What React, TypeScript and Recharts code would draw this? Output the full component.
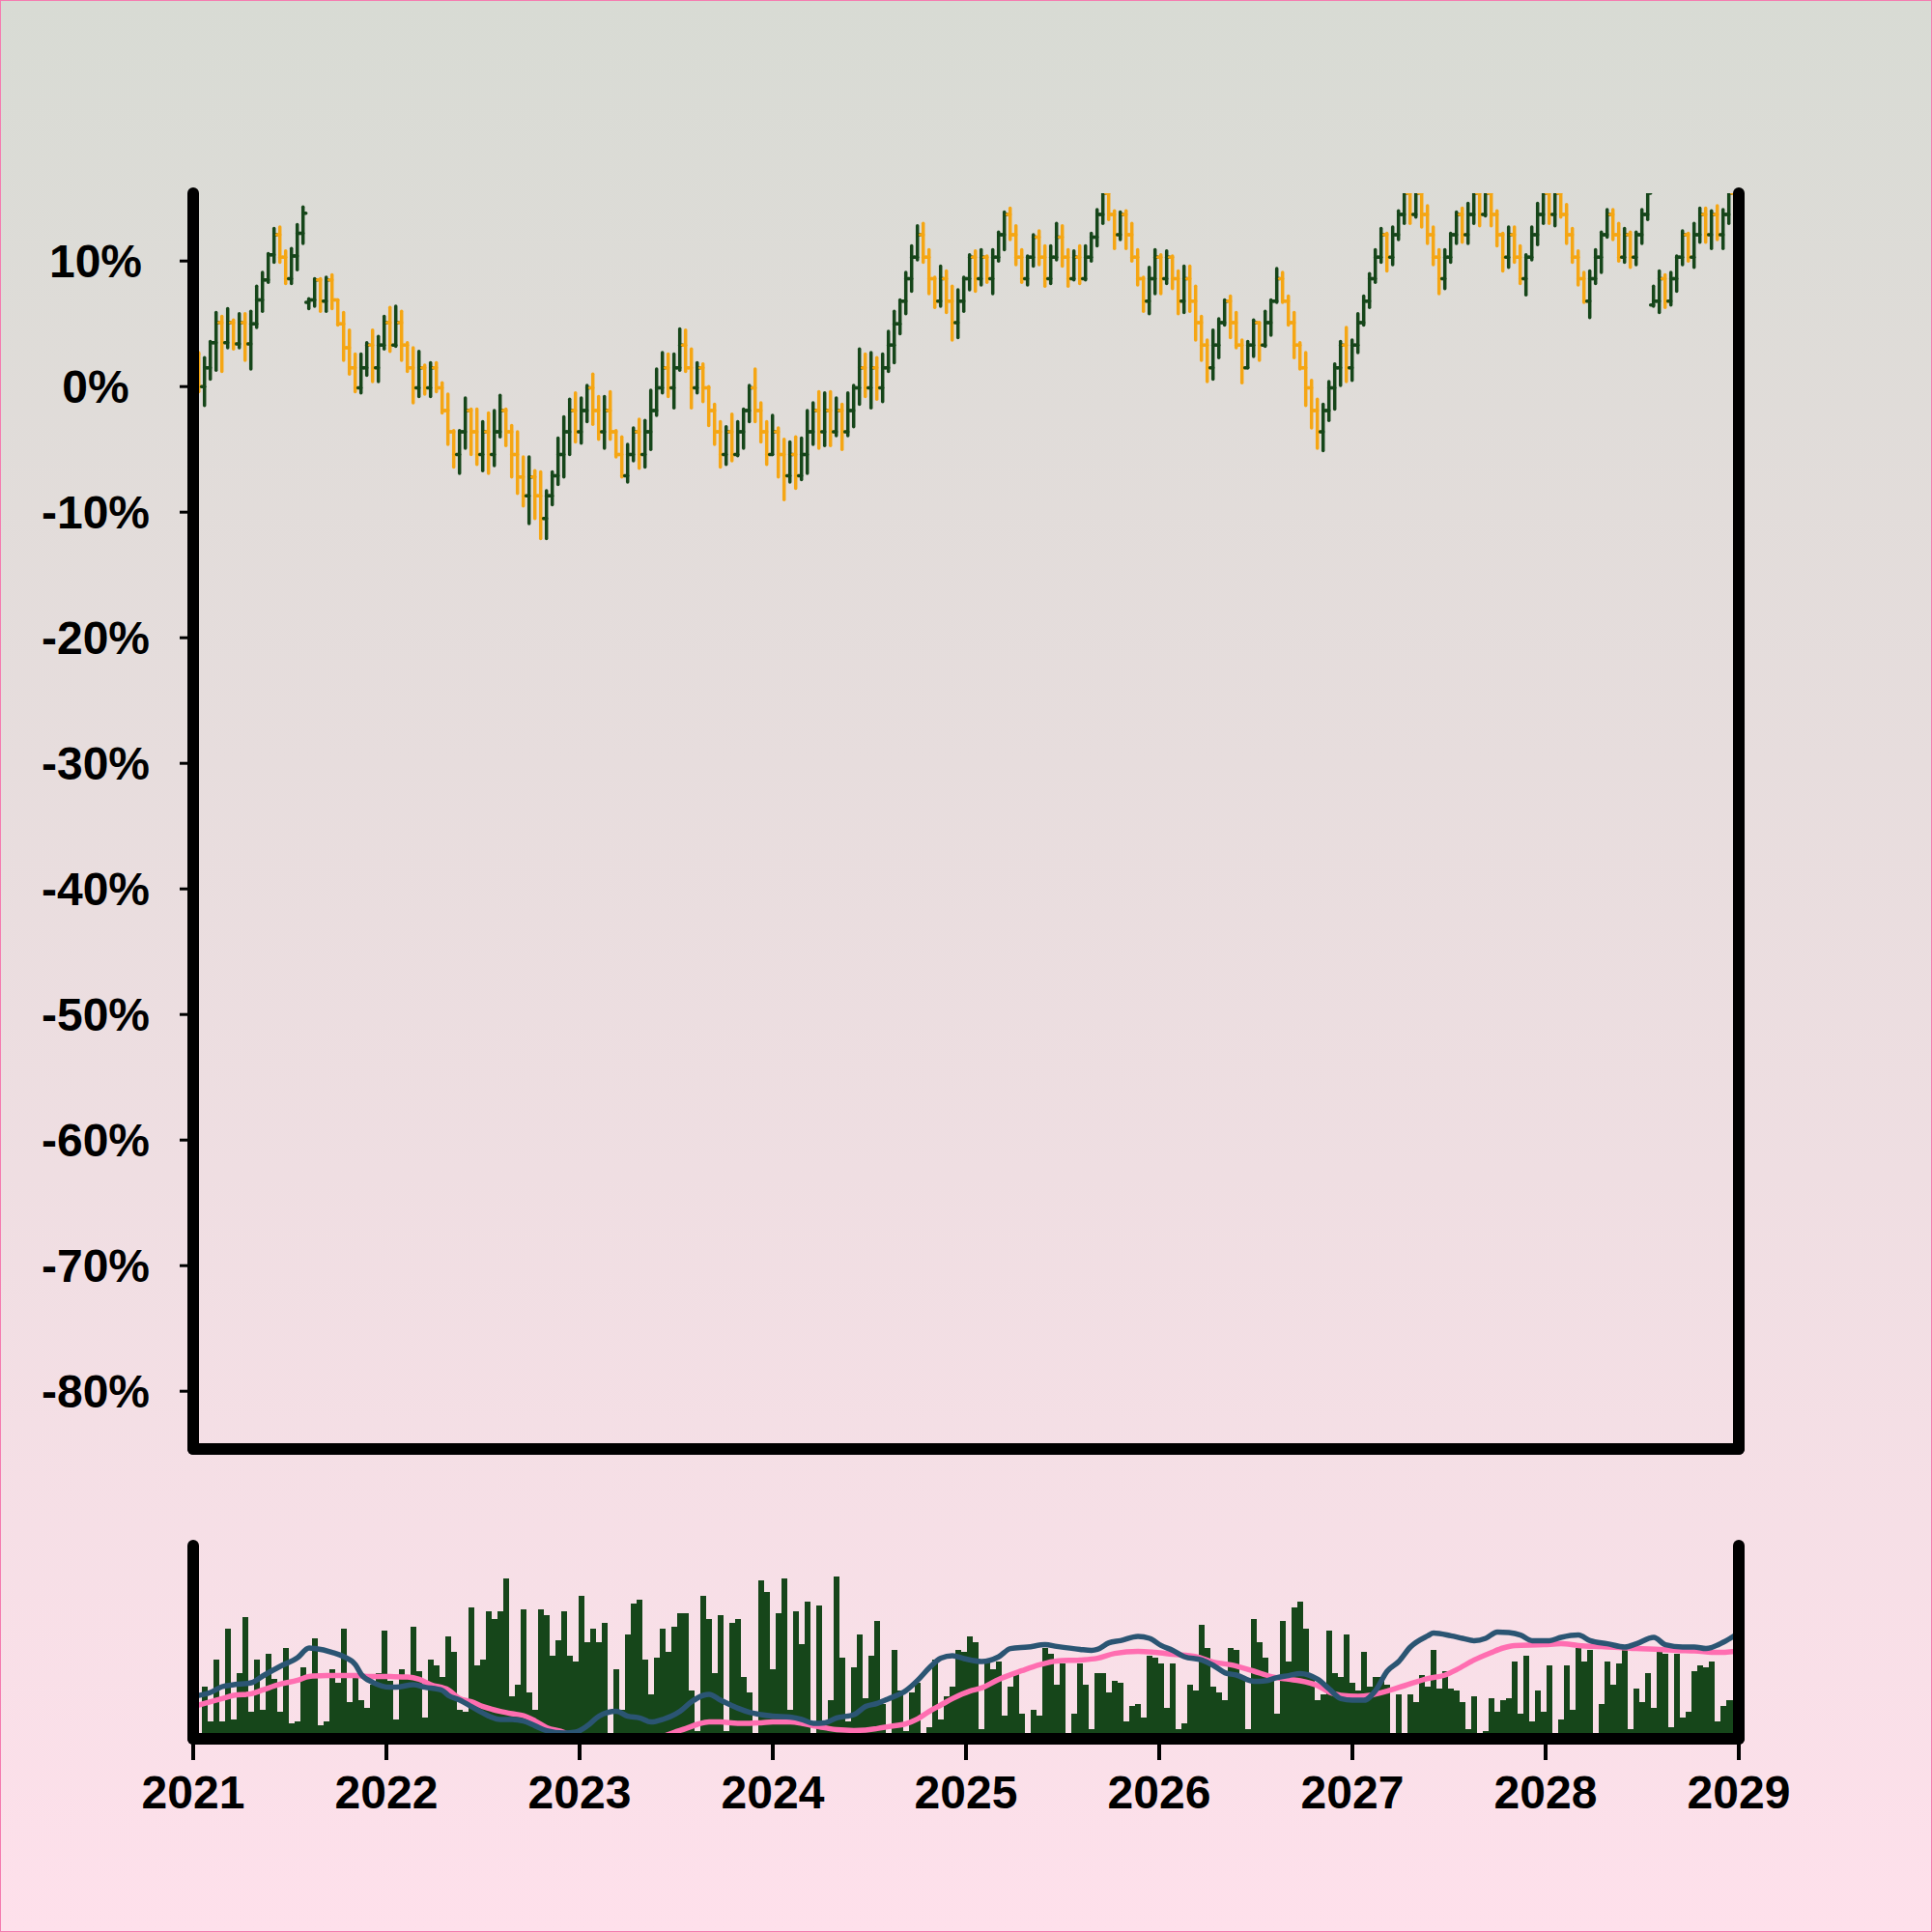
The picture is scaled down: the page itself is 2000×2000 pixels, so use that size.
import React from 'react';
import { ComposedChart, Bar, Line, XAxis, YAxis } from 'recharts';

// bars every ~11 days, starting 2021-01-01
const START_YEAR = 2021;
const STEP_YEARS = 0.03;

// price change in %, one entry per bar
const closes = [
  2.6, 0.0, 1.5, 3.5, 5.1, 3.5, 5.1, 3.4, 5.1, 3.4,
  5.0, 6.9, 8.5, 10.5, 12.1, 10.3, 8.6, 10.4, 12.2, 13.8,
  6.9, 8.5, 6.8, 8.5, 6.9, 5.0, 3.1, 1.5, -0.1, 1.5,
  3.3, 1.5, 3.3, 5.1, 3.3, 5.1, 3.3, 1.5, -0.1, 1.5,
  -0.1, 1.5, -0.1, -1.9, -3.6, -5.4, -3.6, -1.9, -3.6, -5.4,
  -3.6, -5.4, -3.6, -1.9, -3.6, -5.4, -7.2, -8.7, -7.2, -8.7,
  -10.5, -8.7, -7.1, -5.4, -3.6, -1.9, -3.6, -1.9, -0.1, -1.9,
  -3.6, -1.9, -3.6, -5.4, -7.1, -5.4, -3.6, -5.4, -3.6, -1.9,
  -0.1, 1.5, -0.1, 1.5, 3.3, 1.5, -0.1, 1.5, -0.1, -1.9,
  -3.6, -5.4, -3.6, -5.4, -3.6, -1.9, -0.1, -1.9, -3.6, -5.4,
  -3.6, -5.4, -7.1, -5.4, -7.1, -5.4, -3.6, -1.9, -3.6, -1.9,
  -3.6, -1.9, -3.6, -1.9, -0.1, 1.5, -0.1, 1.5, -0.1, 1.5,
  3.3, 5.0, 6.8, 8.6, 10.3, 12.1, 10.3, 8.6, 6.8, 8.6,
  6.8, 5.1, 6.8, 8.6, 10.3, 8.6, 10.3, 8.6, 10.3, 12.1,
  13.7, 12.1, 10.3, 8.6, 10.3, 11.9, 10.3, 8.6, 10.3, 11.9,
  10.3, 8.6, 10.3, 8.6, 10.3, 11.9, 13.7, 15.4, 13.7, 12.1,
  13.7, 12.1, 10.3, 8.6, 6.8, 8.6, 10.3, 8.6, 10.3, 8.6,
  6.8, 8.6, 6.8, 5.1, 3.3, 1.5, 3.3, 5.1, 6.8, 5.1,
  3.3, 1.5, 3.3, 5.1, 3.3, 5.1, 6.8, 8.6, 6.8, 5.1,
  3.3, 1.5, -0.1, -1.9, -3.6, -1.9, -0.1, 1.5, 3.3, 1.5,
  3.3, 5.1, 6.8, 8.6, 10.3, 12.1, 10.3, 12.1, 13.7, 15.4,
  13.7, 15.4, 13.7, 12.1, 10.3, 8.6, 10.3, 12.1, 13.7, 12.1,
  13.7, 15.4, 13.7, 15.4, 13.7, 12.1, 10.3, 12.1, 10.3, 8.6,
  10.3, 12.1, 13.7, 15.4, 13.7, 15.4, 13.7, 12.1, 10.3, 8.6,
  6.8, 8.6, 10.3, 12.1, 13.7, 12.1, 10.3, 12.1, 10.3, 12.1,
  13.7, 15.4, 6.8, 8.6, 6.8, 8.6, 10.3, 12.1, 10.3, 12.1,
  13.7, 12.1, 13.7, 12.1, 13.7, 15.4, 13.7,
];

const highs = [
  2.8, 2.7, 2.3, 3.6, 5.9, 5.6, 6.2, 5.3, 5.8, 5.8,
  6.0, 8.0, 9.1, 10.6, 12.6, 12.7, 10.8, 11.0, 12.9, 14.3,
  7.0, 8.6, 8.6, 8.7, 8.9, 6.9, 5.9, 4.5, 2.6, 2.6,
  3.5, 4.5, 4.0, 5.6, 6.3, 6.4, 6.0, 3.5, 3.1, 2.8,
  1.7, 1.9, 1.9, 0.3, -0.6, -3.5, -3.5, -0.9, -1.8, -1.8,
  -2.8, -2.1, -1.9, -0.7, -1.8, -3.1, -3.6, -5.6, -5.6, -6.7,
  -6.8, -8.3, -6.8, -4.1, -2.4, -1.0, -0.5, -0.9, 0.1, 1.0,
  -0.8, -0.8, -0.4, -3.5, -4.0, -4.6, -3.3, -2.6, -2.7, -0.3,
  1.4, 2.7, 2.6, 2.6, 4.6, 4.5, 3.0, 1.9, 1.8, 0.0,
  -1.4, -2.8, -3.2, -2.2, -2.8, -1.8, 0.1, 1.4, -1.3, -2.8,
  -2.3, -3.3, -4.2, -4.4, -4.0, -4.1, -1.9, -1.3, -0.4, -0.5,
  -0.4, -0.9, -1.4, -0.5, 0.1, 3.0, 2.6, 2.7, 2.3, 2.6,
  4.4, 6.0, 6.9, 9.1, 11.2, 12.8, 13.0, 10.9, 8.7, 9.6,
  9.2, 8.0, 7.7, 8.7, 10.5, 10.8, 10.9, 10.4, 10.9, 12.3,
  13.9, 14.2, 12.8, 10.9, 10.4, 12.1, 12.4, 11.2, 11.2, 13.0,
  12.8, 10.9, 10.8, 11.2, 11.2, 12.2, 14.1, 16.5, 16.0, 14.0,
  13.9, 14.0, 13.0, 10.9, 8.7, 9.5, 10.9, 10.5, 10.8, 10.4,
  9.2, 9.6, 9.6, 8.0, 5.6, 3.7, 4.5, 5.4, 6.9, 7.2,
  5.9, 3.7, 3.6, 5.3, 5.1, 6.0, 6.9, 9.4, 9.1, 7.2,
  5.9, 3.5, 2.7, 0.5, -1.0, -1.4, 0.4, 1.8, 3.6, 4.7,
  3.7, 5.8, 7.2, 9.0, 10.9, 12.6, 12.2, 12.7, 14.0, 16.5,
  16.5, 16.5, 16.5, 14.4, 12.7, 10.9, 10.9, 12.2, 13.9, 14.2,
  14.6, 16.5, 16.5, 16.5, 16.5, 14.0, 12.2, 12.7, 12.7, 11.2,
  10.5, 12.7, 14.6, 16.5, 16.5, 16.5, 16.5, 14.5, 12.6, 10.8,
  9.1, 9.2, 10.9, 12.3, 14.1, 14.1, 13.0, 12.6, 12.3, 12.3,
  14.1, 16.5, 8.0, 9.2, 8.9, 9.1, 10.4, 12.4, 12.2, 13.0,
  14.2, 14.2, 14.0, 14.4, 14.1, 16.5, 16.5,
];

const lows = [
  -0.5, -0.4, -1.5, 0.6, 1.3, 1.2, 3.1, 3.0, 3.1, 2.1,
  1.4, 4.7, 6.0, 8.3, 9.9, 9.9, 8.2, 8.2, 9.3, 11.4,
  6.2, 6.4, 6.0, 6.0, 6.2, 4.9, 2.1, 1.0, -0.4, -0.5,
  0.9, 0.4, 0.4, 3.0, 2.8, 3.2, 2.1, 1.2, -1.3, -0.8,
  -0.6, -0.8, -0.4, -2.1, -4.6, -6.4, -6.9, -4.9, -5.4, -6.2,
  -6.7, -6.9, -6.3, -4.0, -4.7, -7.2, -8.5, -9.5, -10.9, -10.5,
  -12.1, -12.1, -9.4, -7.8, -7.2, -5.4, -4.4, -4.5, -2.8, -3.0,
  -4.2, -4.9, -4.2, -5.6, -7.2, -7.6, -5.9, -6.5, -6.4, -5.0,
  -2.3, -0.5, -0.8, -1.7, 1.3, 1.2, -1.7, -0.5, -1.2, -3.1,
  -4.6, -6.4, -6.2, -5.9, -5.5, -4.9, -2.8, -2.8, -4.4, -6.2,
  -5.4, -7.2, -9.0, -7.6, -8.1, -7.4, -6.9, -4.6, -4.9, -4.7,
  -4.7, -3.9, -5.0, -3.9, -3.2, -1.4, -0.8, -1.7, -1.0, -1.2,
  1.2, 1.9, 4.2, 5.8, 7.6, 10.1, 9.9, 7.4, 6.3, 6.4,
  5.9, 3.7, 3.9, 6.0, 7.7, 7.6, 8.1, 8.3, 7.4, 10.0,
  10.9, 11.7, 9.7, 8.3, 8.1, 9.6, 9.7, 8.0, 8.2, 10.1,
  9.6, 8.0, 8.5, 8.2, 8.5, 10.0, 11.2, 13.0, 13.3, 11.0,
  11.7, 11.0, 10.0, 8.1, 6.0, 5.8, 7.4, 7.4, 8.2, 7.8,
  5.8, 5.9, 6.0, 3.7, 2.1, 0.4, 0.6, 2.3, 4.9, 3.9,
  3.1, 0.3, 1.5, 2.4, 2.1, 3.2, 4.1, 6.7, 6.7, 4.9,
  2.3, 1.4, -1.5, -3.3, -4.9, -5.1, -2.7, -1.8, 0.1, 0.4,
  0.5, 2.7, 4.9, 6.3, 8.3, 9.9, 9.2, 9.7, 11.7, 13.0,
  13.0, 13.5, 12.7, 11.4, 9.7, 7.4, 7.8, 9.9, 11.4, 11.5,
  11.4, 13.0, 12.8, 13.6, 12.8, 11.2, 9.2, 9.5, 9.9, 8.2,
  7.3, 10.1, 11.3, 13.0, 13.0, 12.8, 13.5, 11.4, 9.9, 8.1,
  6.7, 5.5, 8.2, 9.1, 11.9, 11.7, 10.0, 9.9, 9.5, 9.7,
  11.4, 13.3, 6.4, 5.9, 6.3, 6.5, 7.6, 9.7, 10.0, 9.5,
  11.5, 11.5, 11.0, 11.7, 11.0, 13.0, 12.5,
];

// bars open at the previous close, except where the price jumps
const gapOpens: Record<number, number> = { 0: 0.0, 20: 6.7, 252: 6.5 };

const volumes = [
  20, 0, 27, 9, 41, 9, 57, 10, 34, 63,
  14, 41, 15, 44, 31, 14, 47, 8, 9, 37,
  33, 52, 7, 9, 36, 29, 57, 19, 32, 20,
  16, 28, 34, 56, 30, 10, 36, 33, 58, 35,
  11, 41, 38, 32, 53, 45, 15, 14, 68, 38,
  41, 66, 62, 66, 83, 22, 28, 67, 24, 15,
  67, 64, 43, 51, 66, 43, 40, 74, 50, 57,
  50, 60, 0, 36, 15, 54, 70, 72, 41, 23,
  42, 57, 45, 58, 65, 65, 25, 4, 74, 62,
  34, 64, 4, 60, 62, 32, 24, 0, 82, 76,
  36, 65, 83, 15, 66, 49, 71, 0, 69, 9,
  20, 84, 42, 9, 37, 54, 21, 43, 61, 18,
  0, 46, 25, 4, 24, 29, 0, 6, 41, 10,
  22, 27, 46, 45, 53, 50, 5, 40, 36, 40,
  12, 27, 34, 13, 0, 15, 12, 47, 44, 28,
  39, 0, 13, 39, 28, 5, 34, 34, 24, 30,
  29, 9, 17, 18, 11, 43, 42, 39, 16, 39,
  5, 8, 28, 25, 59, 47, 27, 24, 20, 47,
  46, 32, 5, 62, 50, 42, 30, 13, 61, 40,
  68, 71, 57, 32, 20, 23, 56, 34, 32, 54,
  29, 25, 45, 27, 32, 32, 28, 0, 23, 0,
  23, 19, 33, 27, 46, 26, 35, 26, 25, 19,
  5, 22, 0, 4, 21, 14, 20, 21, 40, 13,
  43, 9, 25, 14, 38, 0, 10, 38, 15, 47,
  40, 46, 0, 18, 40, 28, 39, 46, 5, 26,
  19, 34, 16, 45, 44, 6, 44, 11, 14, 35,
  38, 37, 40, 9, 17, 20, 20,
];

// moving averages of volume, read at [bar index, value]
const fastMa: [number, number][] = [
  [0, 22], [3, 24], [5, 27], [7, 28], [10, 29], [12, 32.5], [15, 37.5], [18, 42], [20, 47], [21, 46.7],
  [24, 44.7], [26, 42.5], [28, 38.3], [29, 33.3], [31, 29.2], [34, 26.7], [35, 26.7], [38, 28], [40, 26.7], [43, 25],
  [44, 22.5], [46, 20], [48, 16.7], [50, 13.3], [53, 10], [55, 10], [57, 9.2], [59, 6.7], [61, 4.2], [64, 3],
  [66, 3.5], [68, 6.7], [70, 11.7], [73, 14.2], [75, 11.7], [77, 10.8], [79, 8.7], [81, 10], [84, 14.2], [86, 19.2],
  [88, 22.5], [89, 23], [91, 20], [94, 15.8], [96, 13.7], [98, 12.5], [100, 11.7], [103, 11.2], [105, 10], [107, 8],
  [109, 8.3], [111, 10.8], [114, 12.5], [116, 16.7], [118, 18.3], [120, 20.8], [123, 25], [125, 30.3], [127, 36.7], [129, 41.7],
  [131, 43], [133, 41.5], [136, 40], [139, 42.5], [141, 46.7], [144, 47.5], [147, 48.7], [149, 47.8], [153, 46.3], [155, 45.8],
  [156, 46.3], [158, 49.7], [160, 50.8], [163, 53], [165, 52], [167, 48.3], [169, 45.8], [171, 42.5], [174, 40.8], [176, 38],
  [178, 34.2], [180, 33], [183, 29.7], [185, 30], [187, 31.7], [189, 32.7], [191, 33.8], [194, 30.8], [196, 25.8], [198, 20.8],
  [200, 20], [202, 20], [204, 25], [206, 35], [208, 40], [210, 47.5], [213, 53.3], [214, 54.7], [217, 53.3], [219, 52],
  [221, 50.8], [223, 52], [225, 55.3], [227, 55], [229, 53.7], [231, 50.8], [234, 50.8], [236, 52.5], [239, 53.7], [241, 50.8],
  [244, 49.2], [247, 47.5], [249, 49.2], [252, 52.5], [254, 48.7], [257, 47.5], [259, 47.5], [261, 46.7], [264, 50], [266, 53.5],
];

const slowMa: [number, number][] = [
  [0, 16.7], [3, 19.2], [5, 20.8], [7, 22.5], [10, 23.3], [12, 25.3], [15, 28.3], [18, 30.3], [20, 32.3], [23, 32.7],
  [26, 32.8], [28, 32.8], [30, 32.3], [34, 32.2], [37, 32], [39, 30.8], [41, 28], [44, 25.3], [46, 20.8], [48, 19.2],
  [50, 16.7], [53, 14.2], [55, 13], [57, 12], [59, 9.2], [61, 5.8], [64, 3.3], [66, 0], [70, -3], [75, -4],
  [80, 0], [83, 3.3], [85, 5.3], [87, 7.5], [89, 8.8], [91, 8.7], [94, 8], [96, 8], [98, 8.3], [100, 8.7],
  [103, 8.7], [105, 8], [107, 6.7], [109, 5.7], [111, 4.7], [114, 4.3], [116, 4.5], [118, 5.3], [120, 6.3], [123, 7.8],
  [125, 10.3], [127, 14.2], [129, 17.5], [131, 20.8], [134, 24.7], [136, 26.3], [139, 30.8], [143, 35.3], [146, 38.3], [149, 40.3],
  [153, 40.8], [156, 41.7], [159, 44.2], [163, 45.3], [166, 44.7], [169, 43.7], [173, 42.5], [176, 39.7], [179, 38.3], [183, 35],
  [186, 32.2], [189, 30.8], [191, 30], [194, 27.5], [196, 24.2], [198, 22.5], [201, 22], [203, 22.5], [206, 24.7], [209, 27.5],
  [213, 31.2], [216, 33], [218, 35.8], [221, 40.8], [224, 44.7], [226, 47], [228, 48.3], [233, 48.7], [236, 49.2], [239, 48.3],
  [243, 47.7], [246, 47.3], [249, 46.7], [253, 46.3], [256, 45.8], [259, 45.5], [263, 44.7], [266, 45.3],
];

const yearTicks = [2021, 2022, 2023, 2024, 2025, 2026, 2027, 2028, 2029];
const pctTicks = [10, 0, -10, -20, -30, -40, -50, -60, -70, -80];

const GREEN = '#16461a';
const ORANGE = '#f5a614';
const BLUE = '#2b5573';
const PINK = '#ff6eb1';
const FONT = '"Liberation Sans", Arial, Helvetica, sans-serif';
const AXIS_LINE = { stroke: '#000', strokeWidth: 12, strokeLinecap: 'round' as const };
const tickStyle = { fontSize: 48, fontWeight: 700, fill: '#000', fontFamily: FONT };

type Row = {
  t: number; o: number; h: number; l: number; c: number;
  range: [number, number]; vol: number; fast: number | null; slow: number | null;
};

const rows: Row[] = closes.map((c, i) => ({
  t: START_YEAR + i * STEP_YEARS,
  o: gapOpens[i] ?? closes[i - 1],
  h: highs[i],
  l: lows[i],
  c,
  range: [lows[i], highs[i]],
  vol: volumes[i],
  fast: null,
  slow: null,
}));
fastMa.forEach(([i, v]) => { rows[i].fast = v; });
slowMa.forEach(([i, v]) => { rows[i].slow = v; });

// high-low stick with open tick on the left and close tick on the right
const OhlcShape = (props: any) => {
  const { x, y, width, height, payload } = props;
  if (!payload || height == null) return null;
  const { o, h, l, c } = payload;
  const cx = x + width / 2;
  const yOf = (p: number) => y + ((h - p) / (h - l)) * height;
  const color = c >= o ? GREEN : ORANGE;
  return (
    <g stroke={color} strokeWidth={3.5} strokeLinecap="round">
      <line x1={cx} x2={cx} y1={y} y2={y + height} />
      <line x1={cx - 3} x2={cx} y1={yOf(o)} y2={yOf(o)} />
      <line x1={cx} x2={cx + 3} y1={yOf(c)} y2={yOf(c)} />
    </g>
  );
};

// volume bars touch each other, one full step wide
const VolumeShape = (props: any) => {
  const { x, y, width, height } = props;
  if (!height || height <= 0) return null;
  const cx = x + width / 2;
  return <rect x={cx - 3.2} y={y} width={6.4} height={height} fill={GREEN} shapeRendering="crispEdges" />;
};

// percent labels are centred in the space left of the axis
const PctTick = (props: any) => {
  const { y, payload } = props;
  return (
    <text x={99} y={y} dy="0.355em" textAnchor="middle" {...tickStyle}>
      {`${payload.value}%`}
    </text>
  );
};

const App: React.FC = () => (
  <div
    style={{
      position: 'absolute', left: 0, top: 0, width: 2000, height: 2000,
      boxSizing: 'border-box', border: '1px solid #f47cb0',
      background: 'linear-gradient(to bottom, #d8dbd4 0%, #fee0eb 100%)',
    }}
  >
    <div style={{ position: 'absolute', left: -1, top: -1 }}>
      <ComposedChart width={2000} height={1510} data={rows} margin={{ top: 200, right: 190, bottom: 0, left: 0 }}>
        <Bar yAxisId="left" dataKey="range" shape={OhlcShape} barSize={6} isAnimationActive={false} />
        <XAxis dataKey="t" type="number" domain={[2021, 2029]} allowDataOverflow height={10}
          tick={false} tickLine={false} axisLine={AXIS_LINE} />
        <YAxis yAxisId="left" type="number" domain={[-84.6, 15.4]} allowDataOverflow ticks={pctTicks} interval={0}
          width={200} tickSize={14} tick={<PctTick />}
          tickLine={{ stroke: '#000', strokeWidth: 3 }} axisLine={AXIS_LINE} />
        <YAxis yAxisId="right" orientation="right" type="number" domain={[-84.6, 15.4]} allowDataOverflow width={10}
          tick={false} tickLine={false} axisLine={AXIS_LINE} />
      </ComposedChart>
    </div>
    <div style={{ position: 'absolute', left: -1, top: 1499 }}>
      <ComposedChart width={2000} height={500} data={rows} margin={{ top: 100, right: 190, bottom: 0, left: 0 }}>
        <Bar yAxisId="left" dataKey="vol" shape={VolumeShape} barSize={6} isAnimationActive={false} />
        <Line yAxisId="left" dataKey="slow" type="monotone" stroke={PINK} strokeWidth={5.5} dot={false}
          connectNulls isAnimationActive={false} />
        <Line yAxisId="left" dataKey="fast" type="monotone" stroke={BLUE} strokeWidth={5.5} dot={false}
          connectNulls isAnimationActive={false} />
        <XAxis dataKey="t" type="number" domain={[2021, 2029]} allowDataOverflow ticks={yearTicks} interval={0}
          height={200} tickSize={22} tickMargin={16} tick={tickStyle}
          tickLine={{ stroke: '#000', strokeWidth: 4 }} axisLine={AXIS_LINE} />
        <YAxis yAxisId="left" type="number" domain={[0, 100]} allowDataOverflow width={200}
          tick={false} tickLine={false} axisLine={AXIS_LINE} />
        <YAxis yAxisId="right" orientation="right" type="number" domain={[0, 100]} allowDataOverflow width={10}
          tick={false} tickLine={false} axisLine={AXIS_LINE} />
      </ComposedChart>
    </div>
  </div>
);

export default App;
